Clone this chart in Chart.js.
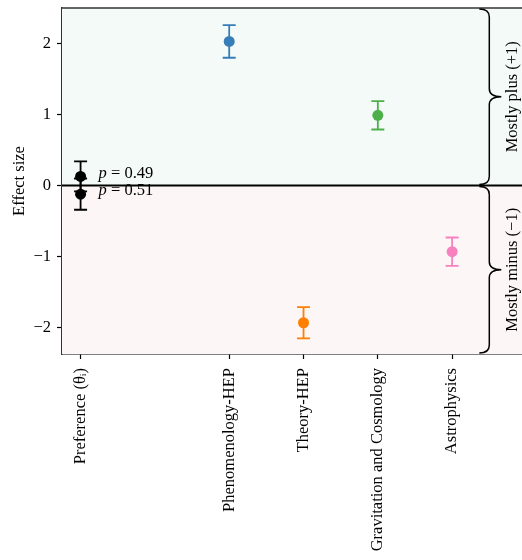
<!DOCTYPE html>
<html>
<head>
<meta charset="utf-8">
<script src="https://cdn.jsdelivr.net/npm/chart.js@4/dist/chart.umd.min.js"></script>
<style>
	body { margin: 0; background: #fff; }
	canvas { display: block; }
</style>
</head>
<body>
<canvas id="main_chart" width="522" height="560"></canvas>
<script>
// x positions of the ticks and their labels
const tickPositions = [0, 2, 3, 4, 5]
const tickLabels = ['Preference (θᵢ)', 'Phenomenology-HEP', 'Theory-HEP', 'Gravitation and Cosmology', 'Astrophysics']
const yTicks = [-2, -1, 0, 1, 2]

// preference points (two overlapping estimates)
const prefValues = [0.13, -0.12]
const prefErrors = [0.21, 0.22]
const prefPValues = ['0.49', '0.51']

// per-field effect sizes
const fieldNames = ['Phenomenology-HEP', 'Theory-HEP', 'Gravitation and Cosmology', 'Astrophysics']
const fieldPositions = [2, 3, 4, 5]
const fieldValues = [2.03, -1.93, 0.99, -0.93]
const fieldErrors = [0.23, 0.22, 0.2, 0.2]
const fieldColors = ['#377eb8', '#ff7f00', '#4daf4a', '#f781bf']

const braceLabels = ['Mostly plus (+1)', 'Mostly minus (−1)']
const bracePosition = 5.5

const serif = '"Liberation Serif", "Times New Roman", serif'
Chart.defaults.font.family = serif
Chart.defaults.font.size = 16.5
Chart.defaults.color = '#000'

const datasets = [
	{
		label: 'Preference',
		data: prefValues.map((v, i) => ({ x: 0, y: v, err: prefErrors[i] })),
		backgroundColor: '#000',
		borderColor: '#000',
		pointRadius: 5.5,
	},
	...fieldNames.map((name, i) => ({
		label: name,
		data: [{ x: fieldPositions[i], y: fieldValues[i], err: fieldErrors[i] }],
		backgroundColor: fieldColors[i],
		borderColor: fieldColors[i],
		pointRadius: 5.5,
	})),
]

// backgrounds, zero line, spines, braces, error bars, p labels
const decorations = {
	id: 'decorations',
	beforeDatasetsDraw(chart) {
		const { ctx, chartArea: a, scales } = chart
		const y0 = scales.y.getPixelForValue(0)
		ctx.save()
		ctx.fillStyle = '#f3faf7'
		ctx.fillRect(a.left, a.top, a.right - a.left, y0 - a.top)
		ctx.fillStyle = '#fdf6f6'
		ctx.fillRect(a.left, y0, a.right - a.left, a.bottom - y0)

		// error bars
		chart.data.datasets.forEach(ds => {
			ctx.strokeStyle = ds.borderColor
			ctx.lineWidth = 1.8
			ds.data.forEach(p => {
				const x = scales.x.getPixelForValue(p.x)
				const yt = scales.y.getPixelForValue(p.y + p.err)
				const yb = scales.y.getPixelForValue(p.y - p.err)
				ctx.beginPath()
				ctx.moveTo(x, yt)
				ctx.lineTo(x, yb)
				ctx.moveTo(x - 6.5, yt)
				ctx.lineTo(x + 6.5, yt)
				ctx.moveTo(x - 6.5, yb)
				ctx.lineTo(x + 6.5, yb)
				ctx.stroke()
			})
		})

		// zero line
		ctx.strokeStyle = '#000'
		ctx.lineWidth = 2
		ctx.beginPath()
		ctx.moveTo(a.left, y0)
		ctx.lineTo(a.right, y0)
		ctx.stroke()

		// top spine
		ctx.strokeStyle = '#333'
		ctx.lineWidth = 1.5
		ctx.beginPath()
		ctx.moveTo(a.left, a.top)
		ctx.lineTo(a.right, a.top)
		ctx.stroke()

		// braces
		const xb = scales.x.getPixelForValue(bracePosition)
		const spans = [[a.top, y0], [y0, a.bottom]]
		ctx.strokeStyle = '#000'
		ctx.lineWidth = 1.5
		spans.forEach(([t, b], i) => {
			const m = (t + b) / 2
			ctx.beginPath()
			ctx.moveTo(xb - 10, t + 1)
			ctx.quadraticCurveTo(xb, t + 1, xb, t + 9)
			ctx.lineTo(xb, m - 8)
			ctx.quadraticCurveTo(xb, m, xb + 12, m)
			ctx.quadraticCurveTo(xb, m, xb, m + 8)
			ctx.lineTo(xb, b - 9)
			ctx.quadraticCurveTo(xb, b - 1, xb - 10, b - 1)
			ctx.stroke()

			ctx.save()
			ctx.translate(xb + 23, m)
			ctx.rotate(-Math.PI / 2)
			ctx.font = `16.5px ${serif}`
			ctx.fillStyle = '#000'
			ctx.textAlign = 'center'
			ctx.textBaseline = 'middle'
			ctx.fillText(braceLabels[i], 0, 0)
			ctx.restore()
		})

		// p-value labels next to the preference points
		const px = scales.x.getPixelForValue(0) + 18
		prefValues.forEach((v, i) => {
			const py = scales.y.getPixelForValue(v) - 3
			ctx.fillStyle = '#000'
			ctx.textBaseline = 'middle'
			ctx.textAlign = 'left'
			ctx.font = `italic 16.5px ${serif}`
			ctx.fillText('p', px, py)
			const w = ctx.measureText('p').width
			ctx.font = `16.5px ${serif}`
			ctx.fillText(' = ' + prefPValues[i], px + w, py)
		})
		ctx.restore()
	},
}

new Chart(document.getElementById('main_chart'), {
	type: 'scatter',
	data: { datasets },
	options: {
		responsive: false,
		animation: false,
		layout: { padding: 0, autoPadding: false },
		plugins: { legend: false, tooltip: { enabled: false } },
		elements: { point: { borderWidth: 0, hoverRadius: 5.5 } },
		scales: {
			x: {
				type: 'linear',
				min: -0.25,
				max: 5.94,
				afterBuildTicks: s => { s.ticks = tickPositions.map(v => ({ value: v })) },
				afterFit: s => {
					s.height = 206
					s.paddingLeft = 0
					s.paddingRight = 0
				},
				grid: { drawOnChartArea: false, drawTicks: true, tickLength: 5, color: '#000', tickWidth: 1.2 },
				border: { display: true, color: '#000', width: 1.5 },
				ticks: {
					minRotation: 90,
					maxRotation: 90,
					padding: 9,
					autoSkip: false,
					callback: v => tickLabels[tickPositions.indexOf(v)],
				},
			},
			y: {
				min: -2.37,
				max: 2.5,
				afterBuildTicks: s => { s.ticks = yTicks.map(v => ({ value: v })) },
				afterFit: s => {
					s.width = 62
					s.paddingTop = 8
					s.paddingBottom = 0
				},
				grid: { drawOnChartArea: false, drawTicks: true, tickLength: 5, color: '#000', tickWidth: 1.2 },
				border: { display: true, color: '#333', width: 1.5 },
				title: { display: true, text: 'Effect size', font: { size: 16.5 }, padding: { top: 10, bottom: 0 } },
				ticks: {
					padding: 6,
					callback: v => (v < 0 ? '−' + Math.abs(v) : String(v)),
				},
			},
		},
	},
	plugins: [decorations],
})
</script>
</body>
</html>
